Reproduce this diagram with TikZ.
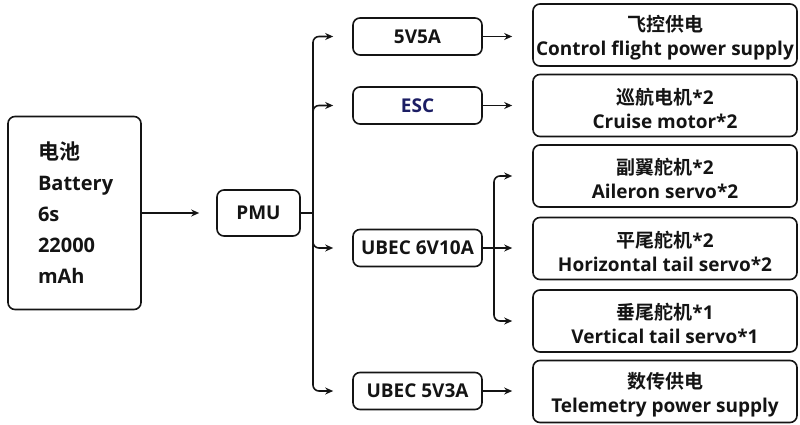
\documentclass[tikz,border=0pt]{standalone}
\usepackage{fontspec}
\setmainfont{Open Sans}
\newfontfamily\cjk{Noto Sans CJK SC}[BoldFont={Noto Sans CJK SC Bold}]
\usetikzlibrary{arrows.meta}
\definecolor{escblue}{RGB}{28,30,100}
\definecolor{ink}{RGB}{20,20,20}
\newcommand\topstrut{\rule{0pt}{22pt}}
\begin{document}
\begin{tikzpicture}[x=1pt,y=-1pt,
  box/.style={draw=ink, line width=1.6pt, rounded corners=7pt, align=center, inner sep=0pt,
    font=\bfseries\fontsize{19}{24}\selectfont, text=ink},
  midbox/.style={box, minimum width=129pt, minimum height=37pt},
  outbox/.style={box, minimum width=264pt, minimum height=62pt},
  arr/.style={draw=ink, line width=1.6pt, -{Stealth[length=8pt,width=7pt]}},
  link/.style={draw=ink, line width=1.6pt, rounded corners=6pt}]
\useasboundingbox (0,0) rectangle (800,425);
% battery
\node[box, minimum width=133pt, minimum height=193pt, text width=73pt, inner xsep=30pt,
  align=left, font=\bfseries\fontsize{20}{31}\selectfont] (bat) at (74.5,213)
  {{\cjk\fontsize{21}{31}\selectfont 电池}\\Battery\\6s\\22000\\mAh};
\node[box, minimum width=83pt, minimum height=46pt] (pmu) at (258.5,213) {PMU};
% middle column
\node[midbox] (v1) at (417.5,36.5) {5V5A};
\node[midbox, text=escblue] (v2) at (417.5,105.5) {ESC};
\node[midbox] (v3) at (417.5,248) {UBEC 6V10A};
\node[midbox] (v4) at (417.5,391) {UBEC 5V3A};
% right column
\node[outbox] (o1) at (665,35) {\topstrut{\cjk 飞控供电}\\Control flight power supply};
\node[outbox] (o2) at (665,105.5) {\topstrut{\cjk 巡航电机}*2\\Cruise motor*2};
\node[outbox] (o3) at (665,176) {\topstrut{\cjk 副翼舵机}*2\\Aileron servo*2};
\node[outbox] (o4) at (665,248.5) {\topstrut{\cjk 平尾舵机}*2\\Horizontal tail servo*2};
\node[outbox] (o5) at (665,321) {\topstrut{\cjk 垂尾舵机}*1\\Vertical tail servo*1};
\node[outbox] (o6) at (665,391.5) {\topstrut{\cjk 数传供电}\\Telemetry power supply};
% junctions
\coordinate (j1) at (313,213);
\coordinate (j2) at (494,248);
% connectors
\draw[arr, shorten >=17pt] (bat.east) -- (pmu.west);
\draw[link] (pmu.east) -- (j1);
\foreach \n in {v1,v2,v3,v4}
  \draw[link, arr, shorten >=19pt] (j1) |- (\n.west);
\draw[arr, shorten >=20pt] (v1.east) -- (v1.east -| o1.west);
\draw[arr, shorten >=20pt] (v2.east) -- (v2.east -| o2.west);
\draw[arr, shorten >=20pt] (v3.east) -- (v3.east -| o4.west);
\draw[arr, shorten >=20pt] (v4.east) -- (v4.east -| o6.west);
\draw[link, arr, shorten >=20pt] (j2) |- (o3.west);
\draw[link, arr, shorten >=20pt] (j2) |- (o5.west);
\end{tikzpicture}
\end{document}
